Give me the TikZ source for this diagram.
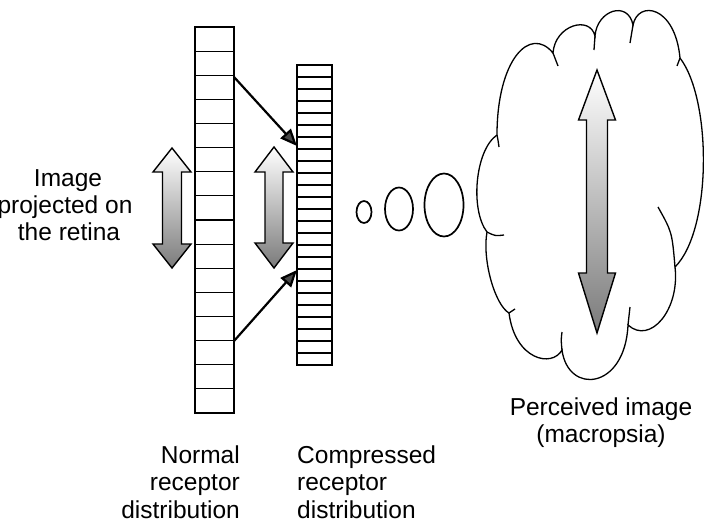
\documentclass[tikz,border=0pt]{standalone}
\usepackage{fontspec}
\setmainfont{Liberation Sans}
\usetikzlibrary{arrows.meta}
\newcommand{\blockarr}[7]{% cx, top tip, top base, bottom base, bottom tip, head half, shaft half
  \draw[blockarrow] (#1,#2) -- ({#1+#6},#3) -- ({#1+#7},#3) -- ({#1+#7},#4) -- ({#1+#6},#4)
    -- (#1,#5) -- ({#1-#6},#4) -- ({#1-#7},#4) -- ({#1-#7},#3) -- ({#1-#6},#3) -- cycle;}
\begin{document}
\begin{tikzpicture}[x=1pt,y=-1pt,
  colbox/.style={line width=1.5pt},
  gridl/.style={line width=1.1pt},
  conn/.style={line width=2.2pt,-{Triangle[length=17pt,width=14pt,fill=black!72]}},
  blockarrow/.style={draw,line width=1.4pt,top color=white,bottom color=black!52},
  oval/.style={line width=1.7pt},
  cloudline/.style={line width=1.3pt},
  lbl/.style={font=\fontsize{24.5}{28}\selectfont,inner sep=0pt}]
\useasboundingbox (0,0) rectangle (704,525);
% normal receptor column
\draw[colbox] (195,27) rectangle (234,413);
\foreach \i in {1,...,15} \draw[gridl] (195,{27+24.125*\i}) -- (234,{27+24.125*\i});
% compressed receptor column
\draw[colbox] (297,65) rectangle (332,365);
\foreach \i in {1,...,24} \draw[gridl] (297,{65+12*\i}) -- (332,{65+12*\i});
% connectors
\coordinate (l1) at (234,77);
\coordinate (r1) at (297,146);
\coordinate (l2) at (234,341);
\coordinate (r2) at (297,270);
\draw[conn] (l1) -- (r1);
\draw[conn] (l2) -- (r2);
% block arrows
\blockarr{172}{148}{172}{244}{268}{19}{9.5}
\blockarr{274}{147}{172}{243}{268}{19}{9}
% ovals
\draw[oval] (364,212) ellipse [x radius=7.5, y radius=11];
\draw[oval] (399,209) ellipse [x radius=14, y radius=21.5];
\draw[oval] (444,205) ellipse [x radius=19.5, y radius=31.5];
% cloud
\draw[cloudline,fill=white] (497,135)
  .. controls (497,60) and (530,25) .. (553,53)
  .. controls (555,25) and (590,15) .. (595,36)
  .. controls (597,10) and (628,0) .. (633,25)
  .. controls (638,0) and (675,5) .. (680,58)
  .. controls (712,100) and (712,230) .. (675,267)
  .. controls (680,310) and (650,345) .. (628,325)
  .. controls (625,390) and (568,395) .. (562,350)
  .. controls (552,368) and (515,360) .. (509,313)
  .. controls (495,305) and (482,260) .. (487,232)
  .. controls (470,210) and (475,150) .. (497,135) -- cycle;
\draw[cloudline] (497,135) .. controls (498,140) .. (499,147);
\draw[cloudline] (487,232) .. controls (495,236) .. (504,235);
\draw[cloudline] (509,313) .. controls (512,311) .. (515,309);
\draw[cloudline] (562,350) .. controls (561,340) .. (562,332);
\draw[cloudline] (628,325) .. controls (629,316) .. (630,307);
\draw[cloudline] (675,267) .. controls (672,232) .. (658,207);
\draw[cloudline] (680,58) .. controls (679,62) .. (677,66);
\draw[cloudline] (633,25) .. controls (631,34) .. (630,43);
\draw[cloudline] (595,36) .. controls (594,43) .. (594,50);
\draw[cloudline] (553,53) .. controls (556,59) .. (558,66);
% perceived arrow
\blockarr{597}{70}{120}{273}{333}{18.5}{10.5}
% labels
\node[lbl,anchor=base] (t1) at (68,186) {Image};
\node[lbl,anchor=base] (t2) at (65,213) {projected on};
\node[lbl,anchor=base] (t3) at (69,240) {the retina};
\node[lbl,anchor=base east] (n1) at (240,463) {Normal};
\node[lbl,anchor=base east] (n2) at (240,490) {receptor};
\node[lbl,anchor=base east] (n3) at (240,518) {distribution};
\node[lbl,anchor=base west] (c1) at (297,463) {Compressed};
\node[lbl,anchor=base west] (c2) at (297,490) {receptor};
\node[lbl,anchor=base west] (c3) at (297,518) {distribution};
\node[lbl,anchor=base] (p1) at (601,415) {Perceived image};
\node[lbl,anchor=base] (p2) at (601,442) {(macropsia)};
\end{tikzpicture}
\end{document}
